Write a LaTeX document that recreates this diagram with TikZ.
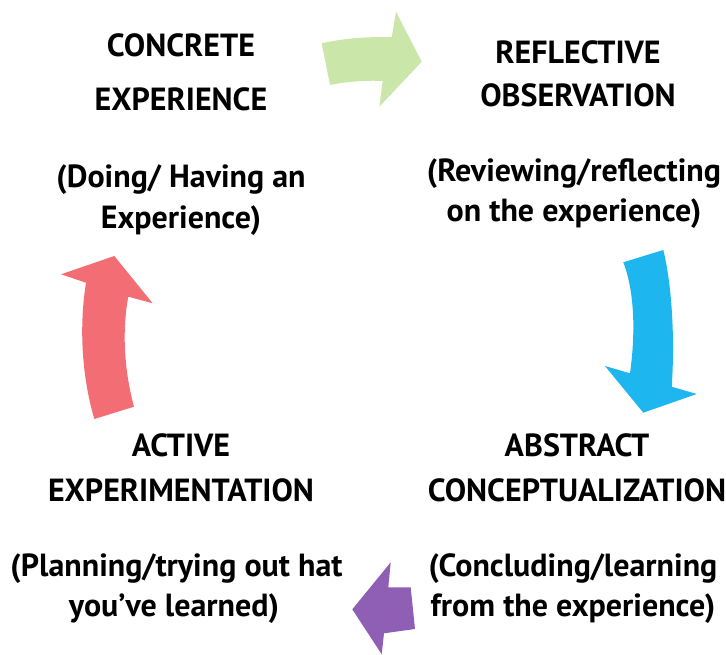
\documentclass[tikz,border=0pt]{standalone}
\usepackage{fontspec}
\setmainfont{PT Sans}
\definecolor{cgreen}{RGB}{202,230,168}
\definecolor{cblue}{RGB}{29,182,238}
\definecolor{cred}{RGB}{242,110,116}
\definecolor{cpurple}{RGB}{142,95,180}
\begin{document}
\begin{tikzpicture}[x=1pt,y=-1pt,
  lbl/.style={anchor=base,inner sep=0pt,font=\fontsize{32}{32}\selectfont\bfseries}]
\useasboundingbox (0,0) rectangle (726,655);
% arrows
\fill[cgreen] (321.7,43.3) .. controls (345,38) and (370,36.5) .. (391.7,37.3) -- (396,11.7) -- (421.7,61.7) -- (379.3,106.7) -- (382.7,81) .. controls (365,80) and (345,82) .. (330,85) -- cycle;
\fill[cblue] (623.3,262.3) -- (663.3,250) .. controls (672,285) and (675,340) .. (671.7,386.7) -- (696.7,394) -- (643.3,412.7) -- (605,366) -- (630,373.3) .. controls (636,330) and (634,290) .. (623.3,262.3) -- cycle;
\fill[cred] (94.3,419) -- (134,406.7) .. controls (124,370) and (122,330) .. (128.3,296.7) -- (152.7,303.3) -- (114.3,256) -- (61,274.3) -- (86,282.7) .. controls (80,320) and (80,370) .. (94.3,419) -- cycle;
\fill[cpurple] (390.7,562.3) -- (388.3,587.3) -- (410.7,587.3) -- (415,629) -- (384,633.3) -- (381.7,654.3) -- (352.3,609.3) -- cycle;
% concrete experience
\node[lbl] (ce1) at (181,56.7) {CONCRETE};
\node[lbl] (ce2) at (181,110.7) {EXPERIENCE};
\node[lbl] (ce3) at (181,188) {(Doing/ Having an};
\node[lbl] (ce4) at (181,228.3) {Experience)};
% reflective observation
\node[lbl] (ro1) at (578,63.3) {REFLECTIVE};
\node[lbl] (ro2) at (578,106.7) {OBSERVATION};
\node[lbl] (ro3) at (574,181.7) {(Reviewing/reflecting};
\node[lbl] (ro4) at (574,221.7) {on the experience)};
% abstract conceptualization
\node[lbl] (ac1) at (577,456.7) {ABSTRACT};
\node[lbl] (ac2) at (577,501.7) {CONCEPTUALIZATION};
\node[lbl] (ac3) at (573,576.7) {(Concluding/learning};
\node[lbl] (ac4) at (573,616.7) {from the experience)};
% active experimentation
\node[lbl] (ae1) at (181,456.7) {ACTIVE};
\node[lbl] (ae2) at (181,501.7) {EXPERIMENTATION};
\node[lbl] (ae3) at (176.5,576.7) {(Planning/trying out hat};
\node[lbl] (ae4) at (174,616.7) {you’ve learned)};
\end{tikzpicture}
\end{document}
